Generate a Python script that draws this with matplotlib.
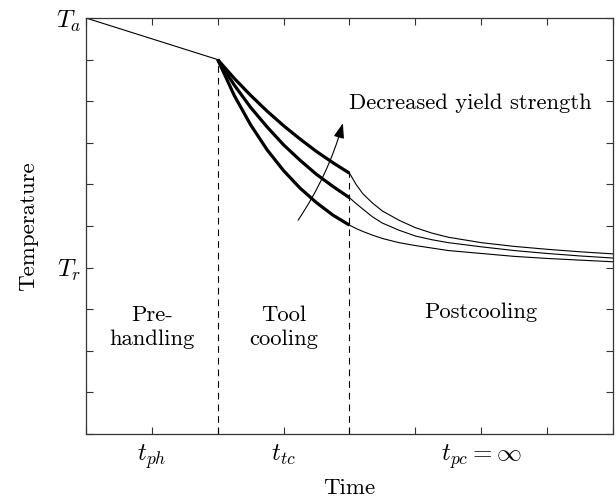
import matplotlib

matplotlib.use("Agg")
import matplotlib.pyplot as plt

plt.rcParams["font.family"] = "serif"
plt.rcParams["font.serif"] = ["cmr10", "DejaVu Serif"]
plt.rcParams["mathtext.fontset"] = "cm"
plt.rcParams["axes.formatter.use_mathtext"] = True

# pre-handling (linear) segment
pre_t = [0.0, 2.0]
pre_T = [10.0, 9.0]

# tool cooling, three yield strengths
tool_t = [2.0, 2.25, 2.5, 2.75, 3.0, 3.25, 3.5, 3.75, 4.0]
tool_low = [9.0, 8.14, 7.43, 6.83, 6.33, 5.91, 5.56, 5.26, 5.02]
tool_mid = [9.0, 8.39, 7.85, 7.38, 6.95, 6.58, 6.24, 5.95, 5.68]
tool_high = [9.0, 8.55, 8.14, 7.76, 7.41, 7.09, 6.79, 6.52, 6.27]

# postcooling
post_t = [4.0, 4.1, 4.2, 4.35, 4.5, 4.75, 5.0, 5.25, 5.5, 6.0, 6.5, 7.0, 7.5, 8.0]
post_low = [5.02, 4.94, 4.87, 4.78, 4.70, 4.60, 4.53, 4.47, 4.41, 4.34, 4.27, 4.22, 4.18, 4.14]
post_mid = [5.68, 5.54, 5.41, 5.22, 5.07, 4.90, 4.76, 4.67, 4.60, 4.50, 4.41, 4.34, 4.28, 4.23]
post_high = [6.27, 6.0, 5.78, 5.55, 5.36, 5.14, 4.96, 4.83, 4.73, 4.60, 4.51, 4.44, 4.38, 4.33]

phase_bounds = [2.0, 4.0]
xtick_pos = [1, 3, 6]
xtick_labels = [r"$t_{ph}$", r"$t_{tc}$", r"$t_{pc} = \infty$"]
ytick_pos = [4, 10]
ytick_labels = [r"$T_r$", r"$T_a$"]

fig = plt.figure(figsize=(6.16, 4.96), dpi=100)
ax = fig.add_axes([0.1396, 0.125, 0.8555, 0.8387])

ax.plot(pre_t, pre_T, color="black", lw=0.8)
for tool_T, post_T in [(tool_low, post_low), (tool_mid, post_mid), (tool_high, post_high)]:
    ax.plot(tool_t, tool_T, color="black", lw=2.3, solid_capstyle="butt")
    ax.plot(post_t, post_T, color="black", lw=0.8)

# phase boundaries
ax.plot([phase_bounds[0]] * 2, [0, pre_T[-1]], color="black", lw=0.8, dashes=(6, 4.5))
ax.plot([phase_bounds[1]] * 2, [0, tool_high[-1]], color="black", lw=0.8, dashes=(6, 4.5))

ax.annotate(
    "",
    xy=(3.9, 7.47),
    xytext=(3.22, 5.14),
    arrowprops=dict(
        arrowstyle="-|>,head_length=0.9,head_width=0.32",
        connectionstyle="arc3,rad=0.08",
        color="black",
        lw=0.8,
        shrinkA=0,
        shrinkB=0,
    ),
)
ax.text(4.0, 7.96, "Decreased yield strength", fontsize=16.3, ha="left", va="center")

ax.text(1.0, 2.57, "Pre-\nhandling", fontsize=16.3, ha="center", va="center", linespacing=1.3)
ax.text(3.0, 2.57, "Tool\ncooling", fontsize=16.3, ha="center", va="center", linespacing=1.3)
ax.text(6.0, 2.93, "Postcooling", fontsize=16.3, ha="center", va="center")

ax.set_xlim(0, 8)
ax.set_ylim(0, 10)

ax.set_xticks(range(0, 9))
ax.set_xticklabels(["" if i not in xtick_pos else xtick_labels[xtick_pos.index(i)] for i in range(9)])
ax.set_yticks(range(0, 11))
ax.set_yticklabels(["" if i not in ytick_pos else ytick_labels[ytick_pos.index(i)] for i in range(11)])

ax.tick_params(direction="in", length=5, width=0.8, top=True, right=True,
               labelsize=18, color="#333333")
ax.tick_params(axis="x", pad=6)
for sp in ax.spines.values():
    sp.set_linewidth(0.9)
    sp.set_color("#333333")

ax.set_xlabel("Time", fontsize=16.5, labelpad=5)
ax.set_ylabel("Temperature", fontsize=16.5, labelpad=13)

fig.savefig("out.png", dpi=100)
